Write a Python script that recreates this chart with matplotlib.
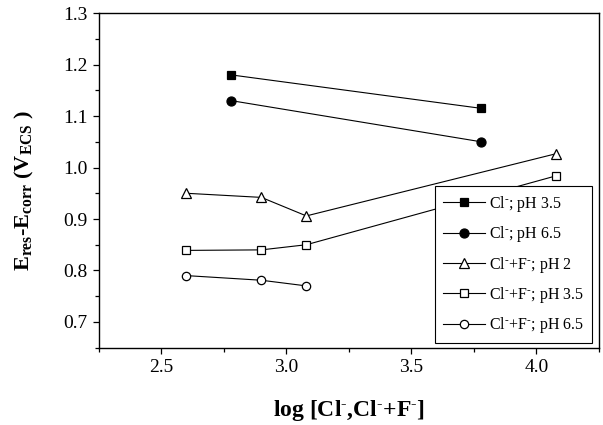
import matplotlib
matplotlib.use('Agg')
from matplotlib import pyplot as plt
from matplotlib.ticker import MultipleLocator

plt.rcParams['font.family'] = 'Liberation Serif'
plt.rcParams['mathtext.fontset'] = 'custom'
plt.rcParams['mathtext.rm'] = 'Liberation Serif'
plt.rcParams['mathtext.it'] = 'Liberation Serif:italic'
plt.rcParams['mathtext.bf'] = 'Liberation Serif:bold'

# данные
cl_ph35_x = [2.78, 3.78]
cl_ph35_y = [1.18, 1.115]
cl_ph65_x = [2.78, 3.78]
cl_ph65_y = [1.13, 1.05]
clf_ph2_x = [2.60, 2.90, 3.08, 4.08]
clf_ph2_y = [0.950, 0.942, 0.906, 1.027]
clf_ph35_x = [2.60, 2.90, 3.08, 4.08]
clf_ph35_y = [0.839, 0.840, 0.850, 0.984]
clf_ph65_x = [2.60, 2.90, 3.08]
clf_ph65_y = [0.790, 0.781, 0.770]

labels = [r'Cl$^{\text{-}}$; pH 3.5', r'Cl$^{\text{-}}$; pH 6.5', r'Cl$^{\text{-}}$+F$^{\text{-}}$; pH 2',
          r'Cl$^{\text{-}}$+F$^{\text{-}}$; pH 3.5', r'Cl$^{\text{-}}$+F$^{\text{-}}$; pH 6.5']

fig = plt.figure(figsize=(6.03, 4.25), dpi=100)
ax = fig.add_axes([0.164, 0.182, 0.829, 0.787])

line_kw = dict(color='black', linewidth=0.8, markeredgewidth=0.9)
ax.plot(cl_ph35_x, cl_ph35_y, marker='s', markersize=6, markerfacecolor='black', markeredgecolor='black', label=labels[0], **line_kw)
ax.plot(cl_ph65_x, cl_ph65_y, marker='o', markersize=6.5, markerfacecolor='black', markeredgecolor='black', label=labels[1], **line_kw)
ax.plot(clf_ph2_x, clf_ph2_y, marker='^', markersize=6.5, markerfacecolor='white', markeredgecolor='black', label=labels[2], **line_kw)
ax.plot(clf_ph35_x, clf_ph35_y, marker='s', markersize=5.5, markerfacecolor='white', markeredgecolor='black', label=labels[3], **line_kw)
ax.plot(clf_ph65_x, clf_ph65_y, marker='o', markersize=6, markerfacecolor='white', markeredgecolor='black', label=labels[4], **line_kw)

ax.set_xlim(2.25, 4.25)
ax.set_ylim(0.65, 1.3)
ax.xaxis.set_major_locator(MultipleLocator(0.5))
ax.xaxis.set_minor_locator(MultipleLocator(0.25))
ax.yaxis.set_major_locator(MultipleLocator(0.1))
ax.yaxis.set_minor_locator(MultipleLocator(0.05))
ax.tick_params(which='both', direction='out', labelsize=14, width=0.9)
ax.tick_params(which='major', length=4.5)
ax.tick_params(which='minor', length=3)
for s in ax.spines.values():
    s.set_linewidth(1.0)

ax.set_xlabel(r'log [Cl$^{\mathbf{\text{-}}}$,Cl$^{\mathbf{\text{-}}}$+F$^{\mathbf{\text{-}}}$]',
              fontsize=17, fontweight='bold')
ax.xaxis.set_label_coords(0.5, -0.15)
ax.set_ylabel(r'E$_{\mathbf{res}}$-E$_{\mathbf{corr}}$ (V$_{\mathbf{ECS}}$ )',
              fontsize=16, fontweight='bold')
ax.yaxis.set_label_coords(-0.125, 0.47)

leg = ax.legend(loc='lower right', bbox_to_anchor=(0.987, 0.013), borderaxespad=0,
                fontsize=11.5, fancybox=False, edgecolor='black', framealpha=1,
                handlelength=2.6, labelspacing=0.65, handletextpad=0.3, borderpad=0.5)
leg.get_frame().set_linewidth(0.8)

fig.savefig('out.png', dpi=100)
